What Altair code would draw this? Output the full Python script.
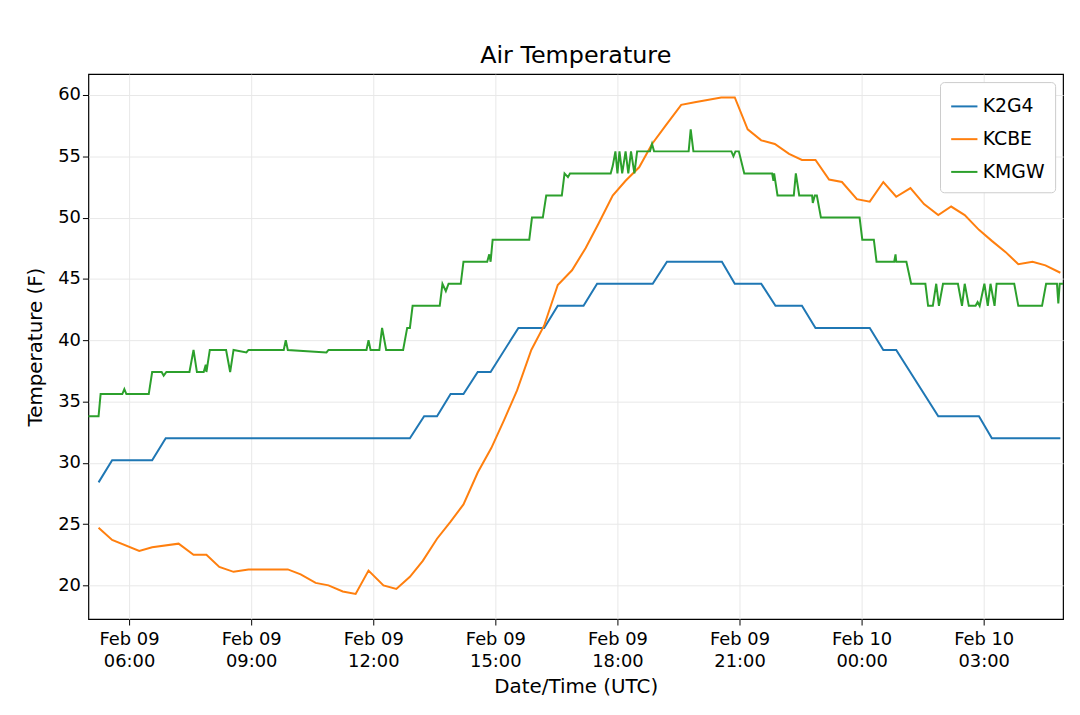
import altair as alt
import pandas as pd

K2G4_T = ["05:15", "05:35", "06:34", "06:54", "12:54", "13:15", "13:34", "13:54", "14:13", "14:34",
          "14:53", "15:34", "16:12", "16:32", "17:10", "17:30", "18:52", "19:13", "20:34", "20:53",
          "21:32", "21:53", "22:32", "22:52", "00:12", "00:32", "00:51", "01:53", "02:53", "03:12", "04:53"]
K2G4_V = [28.4, 30.2, 30.2, 32.0, 32.0, 33.8, 33.8, 35.6, 35.6, 37.4,
          37.4, 41.0, 41.0, 42.8, 42.8, 44.6, 44.6, 46.4, 46.4, 44.6,
          44.6, 42.8, 42.8, 41.0, 41.0, 39.2, 39.2, 33.8, 33.8, 32.0, 32.0]

KCBE_T = ["05:15", "05:35", "06:15", "06:34", "07:13", "07:35", "07:54", "08:13", "08:34", "08:56",
          "09:54", "10:13", "10:35", "10:54", "11:15", "11:34", "11:53", "12:15", "12:34", "12:54",
          "13:13", "13:34", "13:54", "14:13", "14:34", "14:54", "15:13", "15:32", "15:53", "16:12",
          "16:32", "16:53", "17:13", "17:32", "17:53", "18:12", "18:32", "18:51", "19:11", "19:34",
          "19:54", "20:33", "20:53", "21:12", "21:32", "21:52", "22:13", "22:32", "22:52", "23:12",
          "23:31", "23:53", "00:12", "00:32", "00:51", "01:12", "01:32", "01:53", "02:12", "02:32",
          "02:53", "03:12", "03:32", "03:51", "04:12", "04:31", "04:53"]
KCBE_V = [24.7, 23.7, 22.8, 23.1, 23.4, 22.5, 22.5, 21.5, 21.1, 21.3,
          21.3, 20.9, 20.2, 20.0, 19.5, 19.3, 21.2, 20.0, 19.7, 20.7,
          22.0, 23.8, 25.2, 26.6, 29.2, 31.2, 33.5, 35.9, 39.2, 41.2,
          44.5, 45.7, 47.5, 49.5, 51.8, 53.0, 54.1, 56.0, 57.5, 59.2,
          59.4, 59.8, 59.8, 57.2, 56.3, 56.0, 55.2, 54.7, 54.7, 53.1,
          52.9, 51.5, 51.3, 52.9, 51.7, 52.4, 51.1, 50.2, 50.9, 50.2,
          49.0, 48.1, 47.2, 46.2, 46.4, 46.1, 45.5]

KMGW_T = ["05:00", "05:15", "05:18", "05:50", "05:53", "05:56", "06:29", "06:34", "06:48", "06:51",
          "06:55", "07:29", "07:35", "07:40", "07:50", "07:53", "07:54", "07:59", "08:23", "08:29",
          "08:34", "08:53", "08:56", "09:48", "09:51", "09:54", "10:51", "10:54", "11:50", "11:53",
          "11:56", "12:09", "12:13", "12:19", "12:44", "12:50", "12:54", "12:58", "13:38", "13:42",
          "13:47", "13:51", "14:09", "14:13", "14:48", "14:51", "14:53", "14:56", "15:50", "15:54",
          "16:10", "16:15", "16:38", "16:42", "16:47", "16:50", "17:50", "17:53", "17:57", "18:00",
          "18:03", "18:07", "18:12", "18:16", "18:20", "18:25", "18:29", "18:48", "18:51", "18:54",
          "19:45", "19:48", "19:52", "20:48", "20:51", "20:54", "20:59", "21:07", "21:48", "21:50",
          "21:51", "21:56", "22:20", "22:23", "22:28", "22:47", "22:48", "22:51", "22:54", "23:00",
          "23:57", "00:01", "00:18", "00:22", "00:48", "00:50", "00:51", "01:06", "01:13", "01:34",
          "01:38", "01:45", "01:50", "01:54", "02:00", "02:22", "02:28", "02:32", "02:38", "02:48",
          "02:51", "02:54", "03:01", "03:06", "03:10", "03:16", "03:19", "03:45", "03:51", "04:26",
          "04:32", "04:48", "04:50", "04:52", "04:57"]
KMGW_V = [33.8, 33.8, 35.6, 35.6, 36.0, 35.6, 35.6, 37.4, 37.4, 37.1,
          37.4, 37.4, 39.2, 37.4, 37.4, 38.0, 37.4, 39.2, 39.2, 37.4,
          39.2, 39.0, 39.2, 39.2, 40.0, 39.2, 39.0, 39.2, 39.2, 40.0,
          39.2, 39.2, 41.0, 39.2, 39.2, 41.0, 41.0, 42.8, 42.8, 44.6,
          44.0, 44.6, 44.6, 46.4, 46.4, 47.0, 46.4, 48.2, 48.2, 50.0,
          50.0, 51.8, 51.8, 53.6, 53.3, 53.6, 53.6, 54.2, 55.4, 53.6,
          55.4, 53.6, 55.4, 53.6, 55.4, 53.6, 55.4, 55.4, 56.0, 55.4,
          55.4, 57.2, 55.4, 55.4, 55.0, 55.4, 55.4, 53.6, 53.6, 53.0,
          53.6, 51.8, 51.8, 53.6, 51.8, 51.8, 51.2, 51.8, 51.8, 50.0,
          50.0, 48.2, 48.2, 46.4, 46.4, 47.0, 46.4, 46.4, 44.6, 44.6,
          42.8, 42.8, 44.6, 42.8, 44.6, 44.6, 42.8, 44.6, 42.8, 42.8,
          43.1, 42.8, 44.6, 42.8, 44.6, 42.8, 44.6, 44.6, 42.8, 42.8,
          44.6, 44.6, 43.0, 44.6, 44.6]

STATIONS = ["K2G4", "KCBE", "KMGW"]
COLORS = ["#1f77b4", "#ff7f0e", "#2ca02c"]
FONT = "DejaVu Sans"


def stamp(hhmm):
    day = "10" if int(hhmm[:2]) < 5 else "09"
    return f"2019-02-{day}T{hhmm}:00Z"


frames = []
for name, ts, vs in [("K2G4", K2G4_T, K2G4_V), ("KCBE", KCBE_T, KCBE_V), ("KMGW", KMGW_T, KMGW_V)]:
    frames.append(pd.DataFrame({"time": [stamp(t) for t in ts], "temp": vs, "station": name}))
df = pd.concat(frames, ignore_index=True)
df["order"] = df.index

ticks = [alt.DateTime(year=2019, month=2, date=d, hours=h, utc=True)
         for d, h in [(9, 6), (9, 9), (9, 12), (9, 15), (9, 18), (9, 21), (10, 0), (10, 3)]]

chart = alt.Chart(df).mark_line(strokeWidth=2).encode(
    x=alt.X("time:T", title="Date/Time (UTC)",
            scale=alt.Scale(type="utc",
                            domain=[alt.DateTime(year=2019, month=2, date=9, hours=5, utc=True),
                                    alt.DateTime(year=2019, month=2, date=10, hours=4, minutes=57, utc=True)]),
            axis=alt.Axis(values=ticks, labelExpr="[utcFormat(datum.value, '%b %d'), utcFormat(datum.value, '%H:%M')]",
                          labelFontSize=18, titleFontSize=20, labelPadding=6, tickSize=6, labelLineHeight=22,
                          gridColor="#e8e8e8", domain=False, tickColor="black", labelColor="black",
                          titleColor="black", labelFont=FONT, titleFont=FONT, labelFlush=False,
                          titleFontWeight="normal", titlePadding=6)),
    y=alt.Y("temp:Q", title="Temperature (F)",
            scale=alt.Scale(domain=[17.25, 61.7], nice=False, zero=False),
            axis=alt.Axis(values=[20, 25, 30, 35, 40, 45, 50, 55, 60], labelFontSize=18, titleFontSize=20,
                          tickSize=6, gridColor="#e8e8e8", domain=False, tickColor="black",
                          labelColor="black", titleColor="black", labelFont=FONT, titleFont=FONT,
                          titlePadding=12, titleFontWeight="normal")),
    color=alt.Color("station:N", scale=alt.Scale(domain=STATIONS, range=COLORS),
                    legend=alt.Legend(title=None, orient="top-right", labelFontSize=19, labelFont=FONT,
                                      symbolType="stroke", symbolSize=700, symbolStrokeWidth=2,
                                      strokeColor="#cccccc", fillColor="white", padding=10, offset=8,
                                      cornerRadius=4, labelColor="black", rowPadding=8)),
    order="order:Q",
).properties(
    width=982, height=549,
    title=alt.TitleParams("Air Temperature", fontSize=24, font=FONT, fontWeight="normal", color="black", offset=6),
    autosize=alt.AutoSizeParams(type="none"),
    padding={"left": 81, "top": 64, "right": 9, "bottom": 90},
).configure_view(stroke="black", strokeWidth=1.2)

chart.save("out.html", embed_options={"renderer": "svg", "actions": False})
